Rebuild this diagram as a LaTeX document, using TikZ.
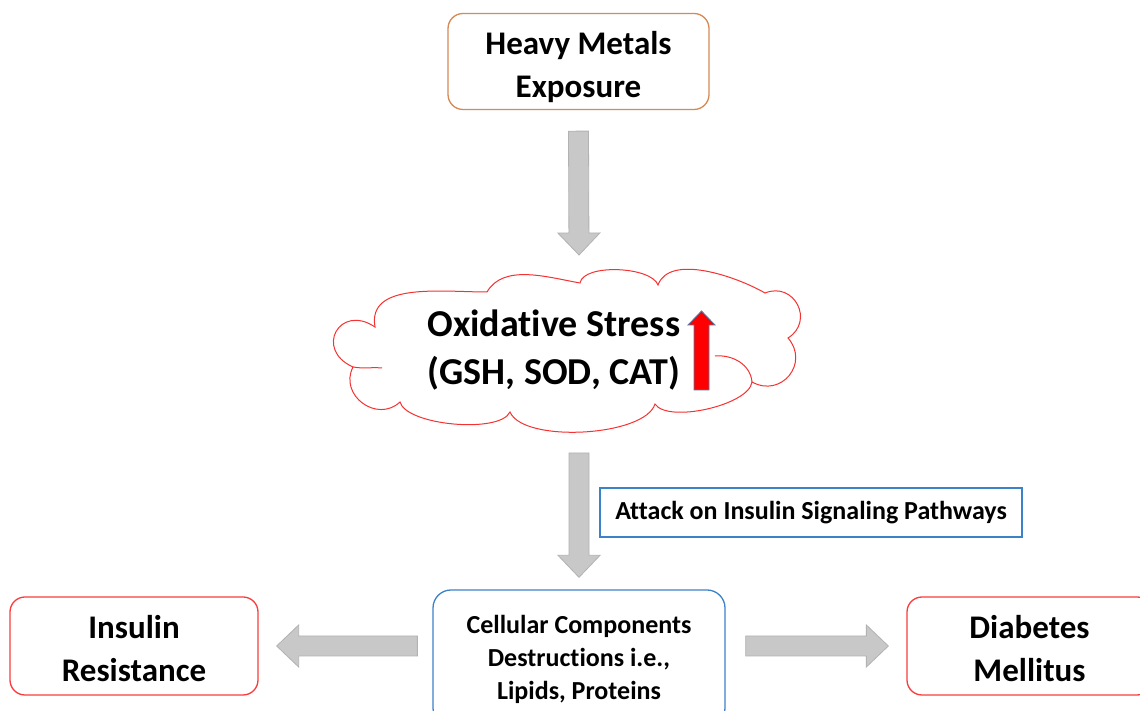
\documentclass[tikz,border=0pt]{standalone}
\usepackage{fontspec}
\setmainfont{Carlito}[Ligatures=NoCommon]
\usetikzlibrary{calc}

\definecolor{boxorange}{RGB}{214,137,84}
\definecolor{boxred}{RGB}{250,60,60}
\definecolor{cloudred}{RGB}{245,50,50}
\definecolor{boxblue}{RGB}{60,130,200}
\definecolor{arrowfill}{RGB}{200,200,200}
\definecolor{arrowline}{RGB}{178,178,178}
\definecolor{upred}{RGB}{255,0,0}
\definecolor{upedge}{RGB}{90,120,160}

\tikzset{
  txt/.style={align=center, text=black},
  roundbox/.style={txt, draw, rounded corners=15pt, line width=1.3pt, inner sep=0pt},
  bigfont/.style={font=\bfseries\fontsize{33}{43}\selectfont},
  fatarrow/.style={fill=arrowfill, draw=arrowline, line width=0.8pt},
  cloudline/.style={draw=cloudred, line width=1pt},
}

% broad block arrow from #1 to #2
\newcommand\fatarrow[2]{%
  \path[fatarrow] let \p1=(#1), \p2=(#2),
      \n1={atan2(\y2-\y1,\x2-\x1)}, \n2={veclen(\x2-\x1,\y2-\y1)} in
    [shift={(\p1)}, rotate=\n1]
    (0,-10) -- (\n2-22,-10) -- (\n2-22,-21) -- (\n2,0) -- (\n2-22,21)
    -- (\n2-22,10) -- (0,10) -- cycle;}

\begin{document}
\begin{tikzpicture}[x=1pt, y=1pt]
\fill[white] (0,0) rectangle (1140,711);
\useasboundingbox (0,0) rectangle (1140,711);

% source box
\node[roundbox, draw=boxorange, minimum width=261pt, minimum height=96pt, bigfont]
  (metal) at (578.5,649.5) {\rule{0pt}{35pt}Heavy Metals\\Exposure};

% cloud outline
\path[cloudline, fill=white]
  (375,384) to[out=100,in=180,looseness=1] (487,419)
  to[out=60,in=170,looseness=0.9] (580,428)
  to[out=80,in=110,looseness=0.65] (658,426)
  to[out=70,in=150,looseness=0.8] (765,418)
  to[out=22,in=32,looseness=1.6] (788,373)
  to[out=-49,in=-29,looseness=1.5] (752,329)
  to[out=263,in=303,looseness=0.6] (655,307)
  to[out=253,in=293,looseness=0.6] (510,299)
  to[out=245,in=285,looseness=0.56] (400,309)
  to[out=223,in=243,looseness=1.38] (353,344)
  to[out=156,in=146,looseness=2.4] (375,384) -- cycle;
\draw[cloudline] (353,344) to[out=-10,in=175] (382,343);
\draw[cloudline] (715,355) to[out=5,in=95] (752,329);
\coordinate (cloudN) at (579,441);
\coordinate (cloudS) at (579,279);

\node[txt, font=\bfseries\fontsize{38}{48}\selectfont] (oxid) at (554,361)
  {Oxidative Stress\\(GSH, SOD, CAT)};

% rising marker
\draw[fill=upred, draw=upedge, line width=0.8pt]
  (694,321) -- (694,386) -- (688,386) -- (701.5,400) -- (715,386)
  -- (709,386) -- (709,321) -- cycle;

% pathway label
\node[txt, draw=boxblue, line width=1.2pt, minimum width=422pt, minimum height=49pt,
  inner sep=0pt, font=\bfseries\fontsize{26}{30}\selectfont]
  (attack) at (811,198.5) {Attack on Insulin Signaling Pathways};

% lower row
\node[roundbox, draw=boxblue, rounded corners=18pt, minimum width=292pt,
  minimum height=136pt, font=\bfseries\fontsize{26}{33}\selectfont]
  (cell) at (579,53) {\rule{0pt}{22pt}Cellular Components\\Destructions i.e.,\\Lipids, Proteins};
\node[roundbox, draw=boxred, minimum width=248pt, minimum height=98pt, bigfont]
  (resist) at (134,65) {\rule{0pt}{28pt}Insulin\\Resistance};
\node[roundbox, draw=boxred, minimum width=245pt, minimum height=98pt, bigfont]
  (diab) at (1029.5,65) {\rule{0pt}{28pt}Diabetes\\Mellitus};

% connectors
\fatarrow{$(metal.south)+(0,-21)$}{$(cloudN)+(0,15)$}
\fatarrow{$(cloudS)+(0,-21)$}{$(cell.north)+(0,12)$}
\fatarrow{$(cell.west |- resist.east)+(-15,0)$}{$(resist.east)+(18,0)$}
\fatarrow{$(cell.east |- diab.west)+(20,0)$}{$(diab.west)+(-18,0)$}
\end{tikzpicture}
\end{document}
